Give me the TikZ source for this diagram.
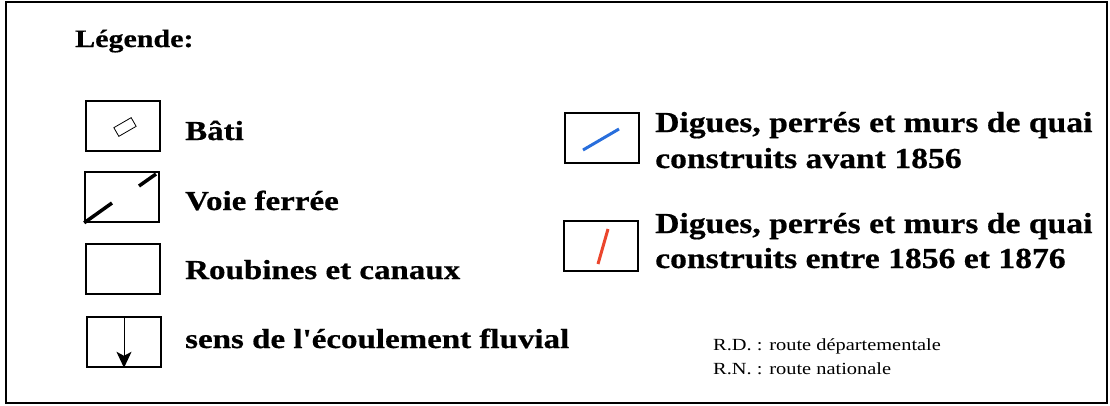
\documentclass[tikz,border=0pt]{standalone}
\usepackage{fontspec}
\setmainfont{Liberation Serif}
\newfontfamily\widefont[FakeStretch=1.2, BoldFeatures={FakeBold=0.6}]{Liberation Serif}
\newfontfamily\rightfont[FakeStretch=1.16, BoldFeatures={FakeBold=0.6}]{Liberation Serif}
\usetikzlibrary{arrows.meta,positioning}

\begin{document}
\begin{tikzpicture}[x=1pt, y=-1pt,
    frame/.style={draw, line width=1.6pt},
    sym/.style={draw, line width=1.6pt, minimum width=74pt, minimum height=50pt, inner sep=0pt},
    lab/.style={anchor=base west, inner sep=0pt, font=\widefont\fontsize{27.5}{30}\selectfont\bfseries},
    rlab/.style={lab, font=\rightfont\fontsize{29}{30}\selectfont\bfseries},
    note/.style={anchor=base west, inner sep=0pt, font=\widefont\fontsize{17}{20}\selectfont},
    arr/.style={-{Stealth[length=16pt, width=15pt, inset=4pt]}, line width=0.9pt}
]
\useasboundingbox (0,0) rectangle (1110,405);
\draw[frame] (6,2) rectangle (1107,403);

\node[lab, font=\widefont\fontsize{25}{30}\selectfont\bfseries] (title) at (75,47) {Légende:};

% symboles de gauche
\node[sym] (bati) at (123,126) {};
\node[sym] (voie) at (122,197) {};
\node[sym] (roub) at (123,269) {};
\node[sym] (sens) at (124,342) {};

\draw[line width=0.8pt, rotate around={30:(125,127)}] (115,122) rectangle (135,132);
\draw[line width=3.5pt] (voie.south west) -- (112,203);
\draw[line width=3.5pt] (139,186) -- (156,174);
\draw[arr] (sens.north) -- (sens.south);

\node[lab] (l-bati) at (185,140) {Bâti};
\node[lab] (l-voie) at (185,210) {Voie ferrée};
\node[lab] (l-roub) at (185,279) {Roubines et canaux};
\node[lab] (l-sens) at (185,348) {sens de l'écoulement fluvial};

% symboles de droite
\node[sym] (avant) at (602,138) {};
\node[sym] (entre) at (601,246) {};
\draw[line width=3pt, draw={rgb,255:red,40;green,110;blue,220}] (583,150) -- (619,129);
\draw[line width=3pt, draw={rgb,255:red,235;green,70;blue,45}] (598,264) -- (608,229);

\node[rlab] (l-avant) at (655,132) {Digues, perrés et murs de quai};
\node[rlab] (l-avant2) at (655,168) {construits avant 1856};
\node[rlab] (l-entre) at (655,233) {Digues, perrés et murs de quai};
\node[rlab] (l-entre2) at (655,268) {construits entre 1856 et 1876};

\node[note] (rd) at (713,350) {R.D. : route départementale};
\node[note] (rn) at (713,374) {R.N. : route nationale};
\end{tikzpicture}
\end{document}
